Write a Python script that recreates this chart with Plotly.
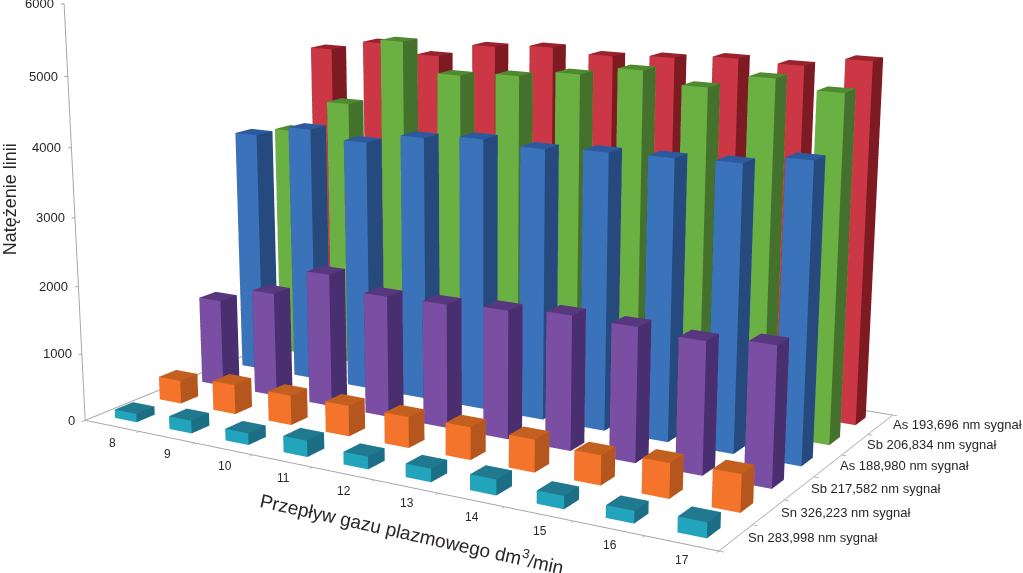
import plotly.graph_objects as go

KATEGORIE = ["8", "9", "10", "11", "12", "13", "14", "15", "16", "17"]
SERIE = [
    "Sn 283,998 nm sygnał",
    "Sn 326,223 nm sygnał",
    "Sb 217,582 nm sygnał",
    "As 188,980 nm sygnał",
    "Sb 206,834 nm sygnał",
    "As 193,696 nm sygnał",
]
SN_283 = [125, 190, 170, 235, 180, 190, 220, 180, 170, 210]
SN_326 = [350, 440, 440, 450, 450, 470, 465, 420, 490, 520]
SB_217 = [1330, 1575, 1995, 1800, 1820, 1870, 1940, 1920, 1870, 1960]
AS_188 = [3695, 3875, 3770, 3935, 4010, 3965, 4015, 4035, 4065, 4205]
SB_206 = [3595, 4110, 5135, 4705, 4775, 4880, 5015, 4855, 5060, 4945]
AS_193 = [4750, 4915, 4790, 5005, 5065, 5010, 5060, 5125, 5100, 5240]
WARTOSCI = [SN_283, SN_326, SB_217, AS_188, SB_206, AS_193]
# kolory: przod, bok, gora
KOLORY = [
    ("#22A4BD", "#1C6E85", "#20798F"),
    ("#F5742B", "#B5561F", "#C4601F"),
    ("#7A4FA3", "#4A2F70", "#57377E"),
    ("#3A73BA", "#264A7E", "#2C5A9E"),
    ("#6BB043", "#44712B", "#4F8A2E"),
    ("#CB3745", "#7E1A22", "#99222D"),
]
TICKI_Z = [0, 1000, 2000, 3000, 4000, 5000, 6000]
TEKST = "#2b2526"
CZCIONKA = "Liberation Sans"
KOLOR_OSI = "#A6A6A6"
ANCHO = 0.4
FONDO = 0.4


def slupki(wartosci, rzad, kolory, nazwa):
    """Jeden mesh3d na serie: 12 trojkatow na slupek."""
    xs, ys, zs, i, j, k, barwy = [], [], [], [], [], [], []
    przod, bok, gora = kolory
    for nr, wartosc in enumerate(wartosci):
        x0, x1 = nr + 0.5 - ANCHO / 2, nr + 0.5 + ANCHO / 2
        y0, y1 = rzad + 0.5 - FONDO / 2, rzad + 0.5 + FONDO / 2
        n = len(xs)
        xs += [x0, x1, x1, x0, x0, x1, x1, x0]
        ys += [y0, y0, y1, y1, y0, y0, y1, y1]
        zs += [0, 0, 0, 0, wartosc, wartosc, wartosc, wartosc]
        sciany = [
            ((0, 1, 2), gora), ((0, 2, 3), gora),
            ((4, 5, 6), gora), ((4, 6, 7), gora),
            ((0, 1, 5), przod), ((0, 5, 4), przod),
            ((3, 2, 6), przod), ((3, 6, 7), przod),
            ((0, 3, 7), bok), ((0, 7, 4), bok),
            ((1, 2, 6), bok), ((1, 6, 5), bok),
        ]
        for (a, b, c), barwa in sciany:
            i.append(n + a)
            j.append(n + b)
            k.append(n + c)
            barwy.append(barwa)
    return go.Mesh3d(
        x=xs, y=ys, z=zs, i=i, j=j, k=k,
        facecolor=barwy,
        flatshading=True,
        lighting={"ambient": 1, "diffuse": 0, "specular": 0, "fresnel": 0},
        name=nazwa,
        showscale=False,
        hovertemplate=nazwa + ": %{z}<extra></extra>",
    )


fig = go.Figure()
for rzad, (wartosci, kolory, nazwa) in enumerate(zip(WARTOSCI, KOLORY, SERIE)):
    fig.add_trace(slupki(wartosci, rzad, kolory, nazwa))

# tylne krawedzie podlogi
liczba_kat, liczba_ser = len(KATEGORIE), len(SERIE)
fig.add_trace(go.Scatter3d(
    x=[0, 0, liczba_kat], y=[0, liczba_ser, liczba_ser], z=[0, 0, 0],
    mode="lines", line=dict(color=KOLOR_OSI, width=2), hoverinfo="skip",
))

adnotacje = []
for nr, etykieta in enumerate(KATEGORIE):
    adnotacje.append(dict(x=nr + 0.5, y=0, z=0, text=etykieta, showarrow=False,
                          yshift=-17, xshift=1, font=dict(family=CZCIONKA, size=12, color=TEKST)))
for rzad, etykieta in enumerate(SERIE):
    adnotacje.append(dict(x=liczba_kat, y=rzad + 0.5, z=0, text=etykieta, showarrow=False,
                          xanchor="left", xshift=10, yshift=0, font=dict(family=CZCIONKA, size=13, color=TEKST)))
for wartosc in TICKI_Z:
    adnotacje.append(dict(x=0, y=0, z=wartosc, text=str(wartosc), showarrow=False,
                          xanchor="right", xshift=-8, font=dict(family=CZCIONKA, size=13, color=TEKST)))
adnotacje.append(dict(x=0, y=0, z=3260, text="Natężenie linii", showarrow=False, textangle=-90,
                      xshift=-64, font=dict(family=CZCIONKA, size=18, color=TEKST)))
adnotacje.append(dict(x=5.2, y=0, z=0, text="Przepływ gazu plazmowego dm<sup>3</sup>/min", showarrow=False,
                      textangle=12.6, yshift=-50, xshift=26, font=dict(family=CZCIONKA, size=19, color=TEKST)))

os_wspolna = dict(
    title="", showbackground=False, showgrid=False, zeroline=False, showspikes=False,
    showline=True, linecolor=KOLOR_OSI, linewidth=2,
    ticks="outside", tickcolor=KOLOR_OSI, tickwidth=2, ticklen=4, showticklabels=False,
)
fig.update_layout(
    width=1023,
    height=1740,
    margin=dict(l=0, r=0, t=0, b=0),
    paper_bgcolor="white",
    showlegend=False,
    scene=dict(
        domain=dict(x=[0, 966 / 1023], y=[0, 1]),
        xaxis=dict(os_wspolna, range=[0, 10], tickvals=list(range(11))),
        yaxis=dict(os_wspolna, range=[0, 6], tickvals=list(range(7))),
        zaxis=dict(os_wspolna, range=[0, 6000], tickvals=TICKI_Z),
        aspectmode="manual",
        aspectratio=dict(x=1.008, y=0.62, z=0.607),
        camera=dict(
            eye=dict(x=1.4726, y=-2.5316, z=0.6585),
            center=dict(x=0.0044, y=-0.0293, z=-0.1044),
            up=dict(x=0, y=0, z=1),
            projection=dict(type="perspective"),
        ),
        annotations=adnotacje,
    ),
)

# wysoka scena daje mala perspektywe jak w oryginale; strona pokazuje tylko wycinek
PRZESUNIECIE = """
var gd = document.getElementById('{plot_id}');
gd.style.position = 'absolute';
gd.style.top = '-579px';
gd.style.left = '0px';
document.documentElement.style.overflow = 'hidden';
document.body.style.overflow = 'hidden';
"""
fig.write_html("out.html", post_script=PRZESUNIECIE)
